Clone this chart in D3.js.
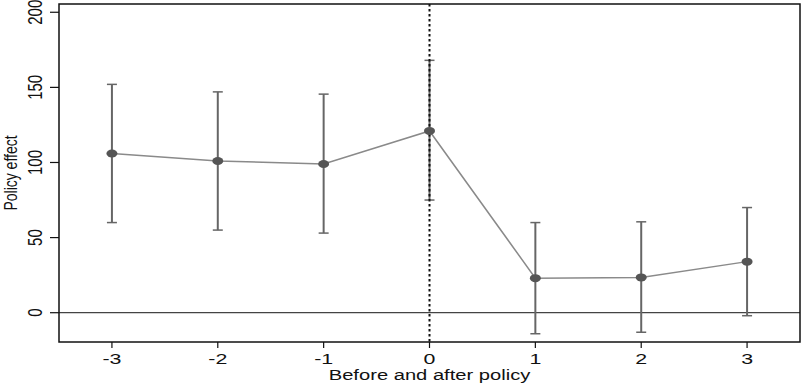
<!DOCTYPE html>
<html><head><meta charset="utf-8">
<script src="https://cdn.jsdelivr.net/npm/d3@7"></script>
<style>body{margin:0;background:#fff}svg{display:block}text{font-family:"Liberation Sans",Arial,sans-serif}</style>
</head><body>
<svg id="c" width="803" height="384"></svg>
<script>
const periods = [-3, -2, -1, 0, 1, 2, 3];
const estimates = [106, 101, 99, 121, 23, 23.5, 34];
const ciLow = [60, 55, 53, 75, -14, -13, -2];
const ciHigh = [152, 147, 145.5, 168, 60, 60.5, 70];
const yTicks = [0, 50, 100, 150, 200];
const xTicks = [-3, -2, -1, 0, 1, 2, 3];
const xTitle = "Before and after policy";
const yTitle = "Policy effect";

const W = 803, H = 384;
const L = 59, R = 800, T = 4, B = 342;
const sx = 1.38;
const svg = d3.select("#c");
const x = d3.scaleLinear().domain([-3.5, 3.5]).range([L, R]);
const y = d3.scaleLinear().domain([-19.5, 205.5]).range([B, T]);

// zero line
svg.append("line").attr("x1", L).attr("x2", R).attr("y1", y(0)).attr("y2", y(0))
  .attr("stroke", "#444").attr("stroke-width", 1.2);

// connecting line
svg.append("path").datum(periods.map((p, i) => [p, estimates[i]]))
  .attr("fill", "none").attr("stroke", "#8a8a8a").attr("stroke-width", 1.5)
  .attr("d", d3.line().x(d => x(d[0])).y(d => y(d[1])));

// error bars
const eb = svg.append("g").attr("stroke", "#666").attr("stroke-width", 2);
periods.forEach((p, i) => {
  eb.append("line").attr("x1", x(p)).attr("x2", x(p)).attr("y1", y(ciLow[i])).attr("y2", y(ciHigh[i]));
  [ciLow[i], ciHigh[i]].forEach(v => {
    eb.append("line").attr("x1", x(p) - 5).attr("x2", x(p) + 5).attr("y1", y(v)).attr("y2", y(v)).attr("stroke-width", 1.5);
  });
});

// vertical dotted line at 0
svg.append("line").attr("x1", x(0)).attr("x2", x(0)).attr("y1", T).attr("y2", B)
  .attr("stroke", "#111").attr("stroke-width", 2).attr("stroke-dasharray", "2.5,2.5");

// markers
svg.append("g").selectAll("ellipse").data(periods).join("ellipse")
  .attr("cx", d => x(d)).attr("cy", (d, i) => y(estimates[i]))
  .attr("rx", 5.5).attr("ry", 4).attr("fill", "#555");

// frame
svg.append("rect").attr("x", L).attr("y", T).attr("width", R - L).attr("height", B - T)
  .attr("fill", "none").attr("stroke", "#111").attr("stroke-width", 1.5);

// y axis ticks
const ya = svg.append("g");
yTicks.forEach(t => {
  ya.append("line").attr("x1", L - 9).attr("x2", L).attr("y1", y(t)).attr("y2", y(t)).attr("stroke", "#111").attr("stroke-width", 1.2);
  ya.append("text").attr("transform", `translate(42,${y(t)}) scale(${sx},1) rotate(-90)`)
    .attr("text-anchor", "middle").attr("font-size", 15).attr("fill", "#111").text(t);
});
svg.append("text").attr("transform", `translate(17,${(T + B) / 2}) scale(1.3,1) rotate(-90)`)
  .attr("text-anchor", "middle").attr("font-size", 14).attr("fill", "#111").text(yTitle);

// x axis ticks
const xa = svg.append("g");
xTicks.forEach(t => {
  xa.append("line").attr("x1", x(t)).attr("x2", x(t)).attr("y1", B).attr("y2", B + 6).attr("stroke", "#111").attr("stroke-width", 1.2);
  xa.append("text").attr("transform", `translate(${x(t)},363.5) scale(${sx},1)`)
    .attr("text-anchor", "middle").attr("font-size", 15.5).attr("fill", "#111").text(t);
});
svg.append("text").attr("transform", `translate(${x(0)},380) scale(1.3,1)`)
  .attr("text-anchor", "middle").attr("font-size", 15.5).attr("fill", "#111").text(xTitle);
</script>
</body></html>
